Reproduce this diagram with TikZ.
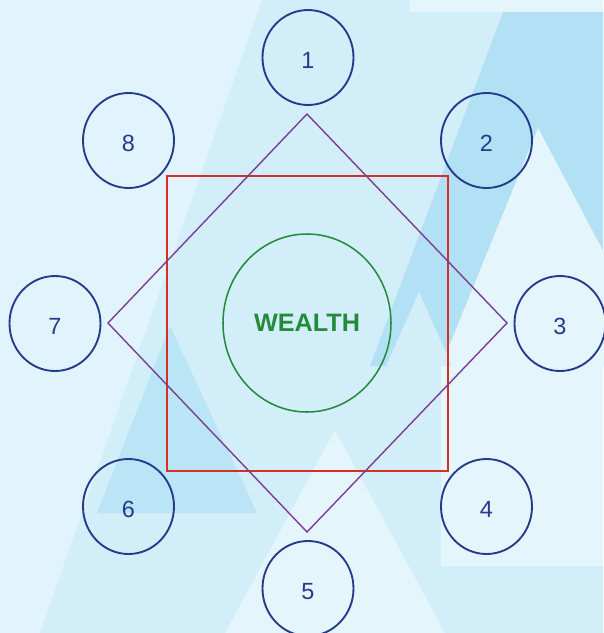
\documentclass[tikz,border=0pt]{standalone}
\usepackage{fontspec}
\setmainfont{Liberation Sans}
\usepackage{xcolor}
\usetikzlibrary{shapes.geometric,positioning}

\definecolor{bgLight}{RGB}{225,243,252}
\definecolor{bgMid}{RGB}{210,238,249}
\definecolor{bgDark}{RGB}{178,225,245}
\definecolor{bgSoft}{RGB}{186,229,247}
\definecolor{bgPale}{RGB}{228,245,252}
\definecolor{ringBlue}{RGB}{38,58,140}
\definecolor{diaPurple}{RGB}{125,62,150}
\definecolor{boxRed}{RGB}{214,46,40}
\definecolor{coreGreen}{RGB}{36,138,60}

\begin{document}
\begin{tikzpicture}[
    x=0.03cm, y=-0.03cm,
    ring/.style={ellipse, draw=ringBlue, line width=1.6pt, minimum width=2.73cm, minimum height=2.85cm, inner sep=0pt, text height=19.5pt, text depth=0pt, text=ringBlue, font=\fontsize{20}{20}\selectfont},
    core/.style={ellipse, draw=coreGreen, line width=1.3pt, minimum width=5.04cm, minimum height=5.34cm, inner sep=0pt, text=coreGreen, font=\fontsize{21.5}{22}\selectfont\bfseries},
    frame/.style={rectangle, draw=boxRed, line width=1.4pt, minimum width=8.43cm, minimum height=8.85cm, inner sep=0pt},
    rhomb/.style={draw=diaPurple, line width=1.2pt},
]

% background
\useasboundingbox (0,0) rectangle (603,633);
\fill[bgLight] (0,0) rectangle (603,633);
\fill[bgMid] (262,0) -- (603,0) -- (603,633) -- (40,633) -- cycle;
\fill[bgPale] (410,0) -- (603,0) -- (603,12) -- (410,12) -- cycle;
\fill[bgDark] (503,12) -- (603,12) -- (603,366) -- (370,366) -- cycle;
\fill[bgPale] (538,128) -- (664,366) -- (441,366) -- cycle;
\fill[bgMid] (419,292) -- (452,366) -- (386,366) -- cycle;
\fill[bgPale] (441,366) -- (603,366) -- (603,566) -- (441,566) -- cycle;
\fill[bgSoft] (170,326) -- (257,513) -- (97,513) -- cycle;
\fill[bgPale] (335,430) -- (445,633) -- (225,633) -- cycle;

% centre
\node[frame] (square) at (307.5,323.5) {};
\coordinate (top) at (307,114);
\coordinate (right) at (507,323);
\coordinate (bottom) at (307,532);
\coordinate (left) at (108,323);
\draw[rhomb] (top) -- (right) -- (bottom) -- (left) -- cycle;
\node[core] (wealth) at (307,323) {WEALTH};

% outer rings
\node[ring] (r1) at (308,57.5) {1};
\node[ring] (r2) at (486.5,140.5) {2};
\node[ring] (r3) at (560,323.5) {3};
\node[ring] (r4) at (486.5,506.5) {4};
\node[ring] (r5) at (308,588.5) {5};
\node[ring] (r6) at (128.5,506.5) {6};
\node[ring] (r7) at (55,323.5) {7};
\node[ring] (r8) at (128.5,140.5) {8};

\end{tikzpicture}
\end{document}
